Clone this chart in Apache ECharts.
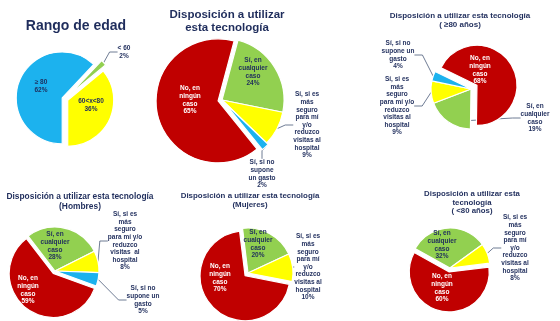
<!DOCTYPE html>
<html>
<head>
<meta charset="utf-8">
<script src="https://cdn.jsdelivr.net/npm/echarts@6/dist/echarts.min.js"></script>
<style>
html, body { margin: 0; padding: 0; background: #fff; }
#chart { width: 560px; height: 321px; }
</style>
</head>
<body>
<div id="chart"></div>
<script>
// Rango de edad
var edadLabels = ["≥ 80", "< 60", "60<x<80"];
var edadValues = [62, 2, 36];

// Disposición a utilizar esta tecnología: No / cualquier caso / más seguro / no gasto
var totalLabels = ["No, en\nningún\ncaso", "Sí, en\ncualquier\ncaso", "Sí, si es\nmás\nseguro\npara mí\ny/o\nreduzco\nvisitas al\nhospital", "Sí, si no\nsupone\nun gasto"];
var totalValues = [65, 24, 9, 2];

var mayor80Labels = ["No, en\nningún\ncaso", "Sí, en\ncualquier\ncaso", "Sí, si es\nmás\nseguro\npara mí y/o\nreduzco\nvisitas al\nhospital", "Sí, si no\nsupone un\ngasto"];
var mayor80Values = [68, 19, 9, 4];

var hombresLabels = ["No, en\nningún\ncaso", "Sí, en\ncualquier\ncaso", "Sí, si es\nmás\nseguro\npara mí y/o\nreduzco\nvisitas  al\nhospital", "Sí, si no\nsupone un\ngasto"];
var hombresValues = [59, 28, 8, 5];

var mujeresLabels = ["No, en\nningún\ncaso", "Sí, en\ncualquier\ncaso", "Sí, si es\nmás\nseguro\npara mí\ny/o\nreduzco\nvisitas al\nhospital"];
var mujeresValues = [70, 20, 10];

var menor80Labels = ["No, en\nningún\ncaso", "Sí, en\ncualquier\ncaso", "Sí, si es\nmás\nseguro\npara mí\ny/o\nreduzco\nvisitas al\nhospital"];
var menor80Values = [60, 32, 8];

var dispColors = ["#C00000", "#92D050", "#FFFF00", "#1CB2EE"];
var edadColors = ["#1CB2EE", "#92D050", "#FFFF00"];

var navy = "#1F2D5C";
var font = "Liberation Sans";

// one pie = a base series + one shifted series per exploded slice
function makePie(cfg) {
  var total = cfg.values.reduce(function (a, b) { return a + b; }, 0);
  var explodeIdx = Object.keys(cfg.explode).map(Number);

  function build(visible, center) {
    var data = cfg.values.map(function (v, i) {
      var show = visible(i);
      var pos = cfg.labelPos[i];
      var outside = cfg.outside.indexOf(i) >= 0;
      return {
        name: cfg.labels[i],
        value: v,
        itemStyle: show
          ? { color: cfg.colors[i], borderColor: "#fff", borderWidth: 1.2 }
          : { color: "rgba(0,0,0,0)", borderWidth: 0 },
        label: {
          show: show,
          position: outside ? "outside" : "inside",
          color: cfg.colors[i] === "#C00000" ? "#fff" : navy
        },
        labelLine: { show: show && outside }
      };
    });
    return {
      type: "pie",
      center: center,
      radius: cfg.radius,
      startAngle: cfg.startAngle,
      clockwise: true,
      silent: true,
      avoidLabelOverlap: false,
      label: {
        formatter: function (p) { return p.name + "\n" + p.value + "%"; },
        fontFamily: font,
        fontWeight: "bold",
        fontSize: 6.5,
        lineHeight: 7.6,
        align: "center"
      },
      labelLine: { length: 4, length2: 8, lineStyle: { color: "#4A5A78", width: 0.8 } },
      labelLayout: function (p) {
        var pos = cfg.labelPos[p.dataIndex];
        if (!pos) return {};
        return { x: pos[0], y: pos[1], align: "center", verticalAlign: "middle" };
      },
      data: data
    };
  }

  var list = [build(function (i) { return explodeIdx.indexOf(i) < 0; }, cfg.center)];
  var cum = 0;
  cfg.values.forEach(function (v, i) {
    var mid = cfg.startAngle - 360 * (cum + v / 2) / total;
    cum += v;
    if (explodeIdx.indexOf(i) < 0) return;
    var r = mid * Math.PI / 180;
    var off = cfg.explode[i];
    var c = [cfg.center[0] + Math.cos(r) * off, cfg.center[1] - Math.sin(r) * off];
    list.push(build(function (k) { return k === i; }, c));
  });
  return list;
}

function makeTitle(text, x, y, size, lh) {
  return {
    text: text,
    left: x,
    top: y,
    textAlign: "center",
    textStyle: {
      color: navy,
      fontFamily: font,
      fontWeight: "bold",
      fontSize: size,
      lineHeight: lh
    }
  };
}

var chart = echarts.init(document.getElementById("chart"), null, { renderer: "canvas" });

var series = [].concat(
  makePie({
    labels: edadLabels, values: edadValues, colors: edadColors,
    center: [65, 99], radius: 46, startAngle: 270,
    explode: { 0: 3, 1: 7, 2: 3 },
    outside: [1],
    labelPos: { 0: [41, 86], 1: [124, 52], 2: [91, 105] }
  }),
  makePie({
    labels: totalLabels, values: totalValues, colors: dispColors,
    center: [222, 100], radius: 62, startAngle: -51,
    explode: { 0: 4, 3: 2 },
    outside: [2, 3],
    labelPos: { 0: [190, 100], 1: [253, 72], 2: [307, 125], 3: [262, 174] }
  }),
  makePie({
    labels: mayor80Labels, values: mayor80Values, colors: dispColors,
    center: [471, 89], radius: 40, startAngle: 154,
    explode: { 0: 7 },
    outside: [1, 2, 3],
    labelPos: { 0: [480, 70], 1: [535, 118], 2: [397, 106], 3: [398, 55] }
  }),
  makePie({
    labels: hombresLabels, values: hombresValues, colors: dispColors,
    center: [55, 271], radius: 44, startAngle: -20,
    explode: { 0: 3 },
    outside: [2, 3],
    labelPos: { 0: [28, 290], 1: [55, 246], 2: [125, 241], 3: [143, 300] }
  }),
  makePie({
    labels: mujeresLabels, values: mujeresValues, colors: dispColors,
    center: [248, 273], radius: 45, startAngle: -11,
    explode: { 0: 4 },
    outside: [2],
    labelPos: { 0: [220, 278], 1: [258, 244], 2: [308, 267] }
  }),
  makePie({
    labels: menor80Labels, values: menor80Values, colors: dispColors,
    center: [450, 268], radius: 40, startAngle: 7,
    explode: { 0: 4 },
    outside: [2],
    labelPos: { 0: [442, 288], 1: [442, 245], 2: [515, 248] }
  })
);

chart.setOption({
  backgroundColor: "#fff",
  animation: false,
  title: [
    makeTitle("Rango de edad", 71, 13, 14, 16),
    makeTitle("Disposición a utilizar\nesta tecnología", 222, 3, 11.5, 13),
    makeTitle("Disposición a utilizar esta tecnología\n( ≥80 años)", 455, 6, 8, 9.5),
    makeTitle("Disposición a utilizar esta tecnología\n(Hombres)", 75, 187, 8.4, 10),
    makeTitle("Disposición a utilizar esta tecnología\n(Mujeres)", 245, 187, 7.9, 8.5),
    makeTitle("Disposición a utilizar esta\ntecnología\n( <80 años)", 467, 185, 7.8, 8.5)
  ],
  series: series
});
</script>
</body>
</html>
